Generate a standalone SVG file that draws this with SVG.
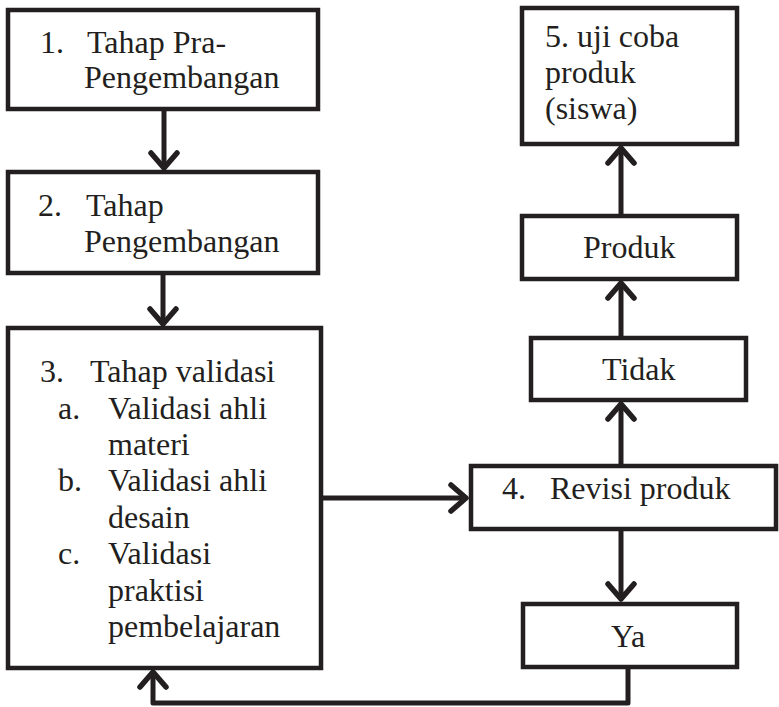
<svg xmlns="http://www.w3.org/2000/svg" width="779" height="707" viewBox="0 0 779 707">
<style>
.box{fill:#fff;stroke:#231f20;stroke-width:4.5}
text{font-family:'Liberation Serif','Times New Roman',Tinos,serif;font-size:32px;fill:#231f20}
.c{fill:none;stroke:#231f20;stroke-width:5;stroke-linejoin:round}
</style>
<defs>
<marker id="ah" markerUnits="userSpaceOnUse" markerWidth="40" markerHeight="40" refX="0" refY="0" viewBox="-20 -20 40 40" orient="auto" overflow="visible">
<path d="M-15,-13 L0,0 L-15,13" fill="none" stroke="#231f20" stroke-width="5.5" stroke-linejoin="round" stroke-linecap="round"/>
</marker>
</defs>
<rect width="779" height="707" fill="#fff"/>
<g id="connectors">
<path class="c" d="M164,109 V168" marker-end="url(#ah)"/>
<path class="c" d="M163,273 V324" marker-end="url(#ah)"/>
<path class="c" d="M321,498 H466" marker-end="url(#ah)"/>
<path class="c" d="M621,529 V599" marker-end="url(#ah)"/>
<path class="c" d="M621,466 V404" marker-end="url(#ah)"/>
<path class="c" d="M621,338 V283" marker-end="url(#ah)"/>
<path class="c" d="M621,216 V148" marker-end="url(#ah)"/>
<path class="c" d="M628,667 V703 H153 V672" marker-end="url(#ah)"/>
</g>
<g id="n1">
<rect class="box" x="8" y="10" width="310" height="99"/>
<text x="40" y="53" font-family="Liberation Serif">1.</text>
<text x="87" y="53" font-family="Liberation Serif">Tahap Pra-</text>
<text x="84" y="88" font-family="Liberation Serif">Pengembangan</text>
</g>
<g id="n2">
<rect class="box" x="8" y="172" width="310" height="101"/>
<text x="38" y="216">2.</text>
<text x="86" y="216">Tahap</text>
<text x="84" y="252">Pengembangan</text>
</g>
<g id="n3">
<rect class="box" x="8" y="328" width="313" height="340"/>
<text x="40" y="382">3.</text>
<text x="90" y="382">Tahap validasi</text>
<text x="58" y="419">a.</text>
<text x="108" y="419">Validasi ahli</text>
<text x="108" y="455">materi</text>
<text x="58" y="491">b.</text>
<text x="108" y="491">Validasi ahli</text>
<text x="108" y="528">desain</text>
<text x="58" y="564">c.</text>
<text x="108" y="564">Validasi</text>
<text x="108" y="601">praktisi</text>
<text x="108" y="637">pembelajaran</text>
</g>
<g id="n4">
<rect class="box" x="471" y="466" width="305" height="63"/>
<text x="502" y="499">4.</text>
<text x="550" y="499">Revisi produk</text>
</g>
<g id="nYa">
<rect class="box" x="523" y="604" width="214" height="63"/>
<text x="611" y="647">Ya</text>
</g>
<g id="nTidak">
<rect class="box" x="531" y="338" width="215" height="62"/>
<text x="602" y="380">Tidak</text>
</g>
<g id="nProduk">
<rect class="box" x="522" y="216" width="215" height="63"/>
<text x="583" y="258">Produk</text>
</g>
<g id="n5">
<rect class="box" x="522" y="8" width="215" height="136"/>
<text x="545" y="47">5. uji coba</text>
<text x="545" y="83">produk</text>
<text x="545" y="119">(siswa)</text>
</g>
</svg>
